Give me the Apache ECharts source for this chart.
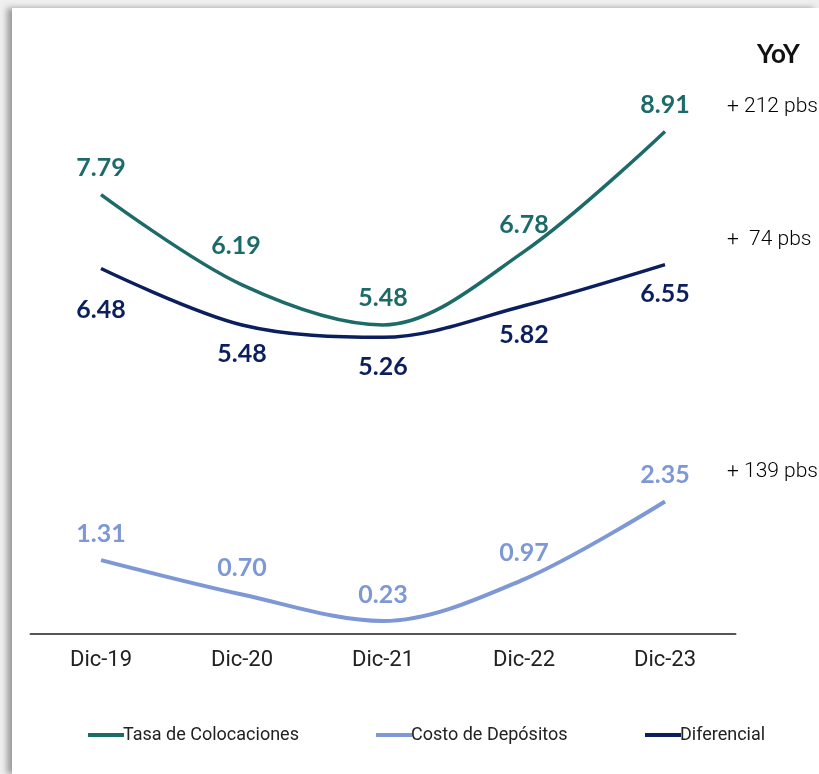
<!DOCTYPE html>
<html>
<head>
<meta charset="utf-8">
<script src="https://cdn.jsdelivr.net/npm/echarts@6/dist/echarts.min.js"></script>
<style>
  html, body { margin:0; padding:0; background:#efefef; width:819px; height:774px; overflow:hidden; }
  #panel { position:absolute; left:12px; top:8px; width:807px; height:766px; background:#fff; box-shadow:-5px 0 6px rgba(0,0,0,0.35); }
  #chart { position:absolute; left:0; top:0; width:819px; height:774px; }
</style>
</head>
<body>
<div id="panel"></div>
<div id="chart"></div>
<script>
const categories = ['Dic-19', 'Dic-20', 'Dic-21', 'Dic-22', 'Dic-23'];
const tasaColocaciones = [7.79, 6.19, 5.48, 6.78, 8.91];
const costoDepositos = [1.31, 0.70, 0.23, 0.97, 2.35];
const diferencial = [6.48, 5.48, 5.26, 5.82, 6.55];
const seriesNames = ['Tasa de Colocaciones', 'Costo de Depósitos', 'Diferencial'];
const yoyLabels = ['+ 212 pbs', '+  74 pbs', '+ 139 pbs'];

const colors = ['#1d6b69', '#7e98d5', '#0b1f5e'];
const numFont = 'Lato, "Noto Sans", sans-serif';
const narrowFont = 'Roboto, sans-serif';

// per-point label nudges (styling, separate from data)
const tasaNudge = {1: [-6, -12]};
const difNudge = {0: [0, 12]};

function buildData(values, nudge) {
  return values.map((v, i) => nudge && nudge[i] ? { value: v, label: { offset: nudge[i] } } : v);
}

function lineSeries(name, values, color, pos, nudge, width) {
  return {
    name: name,
    type: 'line',
    data: buildData(values, nudge),
    smooth: 0.33,
    symbol: 'circle',
    symbolSize: 0,
    showSymbol: true,
    itemStyle: { color: color },
    lineStyle: { color: color, width: width },
    label: {
      show: true,
      position: pos,
      distance: pos === 'top' ? 14 : 17,
      color: color,
      fontFamily: numFont,
      fontWeight: 'bold',
      fontSize: 25,
      formatter: p => p.value.toFixed(2)
    },
    emphasis: { disabled: true },
    animation: false
  };
}

const chart = echarts.init(document.getElementById('chart'), null, { renderer: 'canvas' });

function legendAt(name, color, left) {
  return {
    data: [{ name: name, icon: 'rect', itemStyle: { color: color, opacity: 1 } }],
    left: left,
    top: 721,
    itemWidth: 36,
    itemHeight: 4,
    itemGap: 0,
    textStyle: { fontFamily: narrowFont, fontSize: 18, color: '#222', padding: [0, 0, 0, -6] },
    selectedMode: false
  };
}

chart.setOption({
  backgroundColor: 'transparent',
  animation: false,
  grid: { left: 30.5, right: 83.5, top: 70, bottom: 140, containLabel: false },
  xAxis: {
    type: 'category',
    data: categories,
    boundaryGap: true,
    axisLine: { show: true, lineStyle: { color: '#555', width: 2 } },
    axisTick: { show: false },
    axisLabel: { fontFamily: narrowFont, fontSize: 22, color: '#222', margin: 15 }
  },
  yAxis: {
    type: 'value',
    min: 0,
    max: 10,
    show: false,
    splitLine: { show: false }
  },
  legend: [
    legendAt(seriesNames[0], colors[0], 83),
    legendAt(seriesNames[1], colors[1], 371),
    legendAt(seriesNames[2], colors[2], 640)
  ],
  series: [
    lineSeries(seriesNames[0], tasaColocaciones, colors[0], 'top', tasaNudge, 3.5),
    lineSeries(seriesNames[1], costoDepositos, colors[1], 'top', null, 4),
    lineSeries(seriesNames[2], diferencial, colors[2], 'bottom', difNudge, 3.5)
  ],
  graphic: [
    { type: 'text', left: 757, top: 42, style: { text: 'YoY', font: 'bold 26px ' + numFont, fill: '#111' } },
    { type: 'text', left: 727, top: 96, style: { text: yoyLabels[0], font: '300 21px Roboto, sans-serif', fill: '#000' } },
    { type: 'text', left: 727, top: 229, style: { text: yoyLabels[1], font: '300 21px Roboto, sans-serif', fill: '#000' } },
    { type: 'text', left: 727, top: 461, style: { text: yoyLabels[2], font: '300 21px Roboto, sans-serif', fill: '#000' } }
  ]
});
</script>
</body>
</html>
